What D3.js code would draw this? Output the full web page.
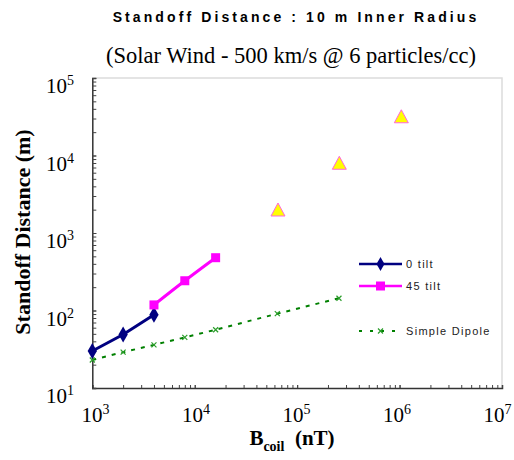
<!DOCTYPE html>
<html><head><meta charset="utf-8">
<script src="https://cdn.jsdelivr.net/npm/d3@7"></script>
<style>body{margin:0;background:#fff}</style>
</head><body>
<svg id="c" width="514" height="460"></svg>
<script>
const tilt0X = [1000, 2000, 4000];
const tilt0Y = [30, 49, 88];
const tilt45X = [4000, 8000, 16000];
const tilt45Y = [118, 242, 480];
const triX = [65000, 258000, 1040000];
const triY = [1980, 7940, 31600];
const dipoleX = [1000, 2000, 4000, 8000, 16000, 64000, 256000];
const dipoleY = [23, 29, 36, 45, 56.5, 91, 144];
const xTicks = [1e3, 1e4, 1e5, 1e6, 1e7];
const yTicks = [1e1, 1e2, 1e3, 1e4, 1e5];
const legendLabels = ["0 tilt", "45 tilt", "Simple Dipole"];

const svg = d3.select("#c");
const L = 92.3, R = 502, T = 78, B = 388;
const x = d3.scaleLog().domain([1e3, 1e7]).range([L, R]);
const y = d3.scaleLog().domain([1e1, 1e5]).range([B, T]);

// frame top/right
svg.append("path").attr("d", `M${L},${T}H${R}V${B}`).attr("fill","none").attr("stroke","#dcdcdc").attr("stroke-width",1.5);

// minor ticks
const minorX = [], minorY = [];
for (let e = 3; e < 7; e++) for (let m = 1; m <= 10; m++) minorX.push(m * Math.pow(10, e));
for (let e = 1; e < 5; e++) for (let m = 1; m <= 10; m++) minorY.push(m * Math.pow(10, e));

const xAxis = d3.axisBottom(x).tickValues(minorX).tickSize(-3).tickFormat("");
svg.append("g").attr("transform", `translate(0,${B})`).call(xAxis)
  .call(g => { g.select(".domain").attr("stroke","#333").attr("stroke-width",1.5); g.selectAll(".tick line").attr("stroke","#444"); });
const yAxis = d3.axisLeft(y).tickValues(minorY).tickSize(-4).tickFormat("");
svg.append("g").attr("transform", `translate(${L},0)`).call(yAxis)
  .call(g => { g.select(".domain").attr("stroke","#333").attr("stroke-width",1.5); g.selectAll(".tick line").attr("stroke","#444"); });

// tick labels
const sup = (sel, v) => {
  const e = Math.round(Math.log10(v));
  sel.append("tspan").text("10");
  sel.append("tspan").attr("font-size", 14).attr("dy", -8).text(e);
};
xTicks.forEach(v => {
  const t = svg.append("text").attr("x", 95.5 + (x(v) - L) * (402 / (R - L))).attr("y", 422).attr("text-anchor","middle")
    .attr("font-family","Liberation Serif, Times New Roman, serif").attr("font-size", 21).attr("fill","#000");
  sup(t, v);
});
yTicks.forEach(v => {
  const t = svg.append("text").attr("x", 74).attr("y", y(v) + 15).attr("text-anchor","end")
    .attr("font-family","Liberation Serif, Times New Roman, serif").attr("font-size", 21).attr("fill","#000");
  sup(t, v);
});

// titles
svg.append("text").attr("x", 296).attr("y", 22).attr("text-anchor","middle")
  .attr("font-family","Liberation Sans, Arial, sans-serif").attr("font-weight","bold").attr("font-size", 14)
  .attr("letter-spacing", 3.1).text("Standoff Distance : 10 m Inner Radius");
svg.append("text").attr("x", 291).attr("y", 63).attr("text-anchor","middle")
  .attr("font-family","Liberation Serif, Times New Roman, serif").attr("font-size", 22.5)
  .text("(Solar Wind - 500 km/s @ 6 particles/cc)");
const xt = svg.append("text").attr("x", 292).attr("y", 445).attr("text-anchor","middle")
  .attr("font-family","Liberation Serif, Times New Roman, serif").attr("font-weight","bold").attr("font-size", 21);
xt.append("tspan").text("B");
xt.append("tspan").attr("font-size", 14).attr("dy", 6).text("coil");
xt.append("tspan").attr("dy", -6).text("\u00a0\u00a0(nT)");
svg.append("text").attr("transform", "translate(30,232) rotate(-90)").attr("text-anchor","middle")
  .attr("font-family","Liberation Serif, Times New Roman, serif").attr("font-weight","bold").attr("font-size", 22)
  .text("Standoff Distance (m)");

// series
const navy = "#000080", mag = "#ff00ff", grn = "#008000";
const dip = dipoleX.map((d, i) => [d, dipoleY[i]]);
svg.append("path").datum(dip).attr("fill","none").attr("stroke", grn).attr("stroke-width", 2)
  .attr("stroke-dasharray","4,6").attr("d", d3.line().x(d => x(d[0])).y(d => y(d[1])));
const cross = (g, cx, cy, s) => {
  g.append("path").attr("d", `M${cx-s},${cy-s}L${cx+s},${cy+s}M${cx-s},${cy+s}L${cx+s},${cy-s}`)
    .attr("stroke", "#2a9d2a").attr("stroke-width", 1.2);
};
dip.forEach(d => cross(svg, x(d[0]), y(d[1]), 2.5));

const t0 = tilt0X.map((d, i) => [d, tilt0Y[i]]);
svg.append("path").datum(t0).attr("fill","none").attr("stroke", navy).attr("stroke-width", 3)
  .attr("d", d3.line().x(d => x(d[0])).y(d => y(d[1])));
svg.selectAll(".dm").data(t0).join("path").attr("d", d3.symbol(d3.symbolDiamond, 75))
  .attr("transform", d => `translate(${x(d[0])},${y(d[1])})`).attr("fill", navy);

const t45 = tilt45X.map((d, i) => [d, tilt45Y[i]]);
svg.append("path").datum(t45).attr("fill","none").attr("stroke", mag).attr("stroke-width", 3)
  .attr("d", d3.line().curve(d3.curveMonotoneX).x(d => x(d[0])).y(d => y(d[1])));
svg.selectAll(".sq").data(t45).join("rect")
  .attr("x", d => x(d[0]) - 4.5).attr("y", d => y(d[1]) - 4.5).attr("width", 9).attr("height", 9).attr("fill", mag);

const tri = triX.map((d, i) => [d, triY[i]]);
svg.selectAll(".tr").data(tri).join("path")
  .attr("d", d => { const cx = x(d[0]), cy = y(d[1]); return `M${cx},${cy-7}L${cx+7},${cy+6}L${cx-7},${cy+6}Z`; })
  .attr("fill", "#ffff00").attr("stroke", "#ff66dd").attr("stroke-width", 1);

// legend
const lg = svg.append("g");
const lf = (yy, txt) => lg.append("text").attr("x", 406).attr("y", yy + 4).attr("font-family","Liberation Sans, Arial, sans-serif")
  .attr("font-size", 11).attr("letter-spacing", 1.3).attr("fill","#222").text(txt);
lg.append("line").attr("x1", 359).attr("x2", 402).attr("y1", 264).attr("y2", 264).attr("stroke", navy).attr("stroke-width", 2.5);
lg.append("path").attr("d", d3.symbol(d3.symbolDiamond, 55)).attr("transform","translate(380.5,264)").attr("fill", navy);
lf(264, legendLabels[0]);
lg.append("line").attr("x1", 359).attr("x2", 402).attr("y1", 286).attr("y2", 286).attr("stroke", mag).attr("stroke-width", 2.5);
lg.append("rect").attr("x", 376).attr("y", 281.5).attr("width", 9).attr("height", 9).attr("fill", mag);
lf(286, legendLabels[1]);
lg.append("line").attr("x1", 359).attr("x2", 402).attr("y1", 331).attr("y2", 331).attr("stroke", grn).attr("stroke-width", 2).attr("stroke-dasharray","3,8");
cross(lg, 380.5, 331, 2.5);
lf(331, legendLabels[2]);
</script>
</body></html>
